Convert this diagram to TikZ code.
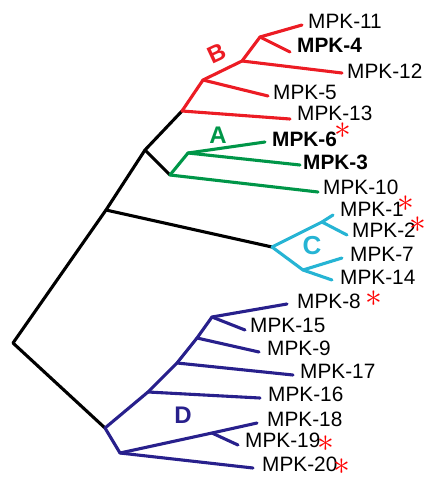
\documentclass[tikz,border=0pt]{standalone}
\usepackage{fontspec}
\setmainfont{Liberation Sans}
\definecolor{cred}{RGB}{236,28,36}
\definecolor{cgreen}{RGB}{0,150,72}
\definecolor{ccyan}{RGB}{38,180,212}
\definecolor{cblue}{RGB}{40,32,140}
\tikzset{
  br/.style={line width=3.1pt, line join=round, line cap=round},
  leaf/.style={anchor=west, inner sep=0pt, font=\fontsize{20.8}{22}\selectfont},
  bleaf/.style={leaf, font=\fontsize{20.8}{22}\selectfont\bfseries},
  star/.style={inner sep=0pt, text=red, font=\fontsize{24.88}{25}\selectfont},
  clade/.style={inner sep=0pt, font=\fontsize{24}{25}\selectfont\bfseries}
}
\newcommand{\redast}{\scalebox{1.35}{$\ast$}}
\begin{document}
\begin{tikzpicture}[x=1pt,y=-1pt]
\useasboundingbox (0,0) rectangle (426,477);
% coordinates
\coordinate (root) at (13,343);
\coordinate (K1) at (106,210);
\coordinate (K2) at (145,150);
% red
\coordinate (R0) at (182,111);
\coordinate (R1) at (203,80);
\coordinate (R2) at (242,61);
\coordinate (R3) at (260,37);
\coordinate (e11) at (302,25);
\coordinate (e4) at (290,52);
\coordinate (e12) at (342,73);
\coordinate (e5) at (268,96);
\coordinate (e13) at (290,119);
% green
\coordinate (G0) at (170,175);
\coordinate (G1) at (188,153);
\coordinate (e6) at (265,142);
\coordinate (e3) at (300,165);
\coordinate (e10) at (318,192);
% cyan
\coordinate (C0) at (272,247);
\coordinate (C1) at (322,222);
\coordinate (C2) at (303,270);
\coordinate (e1) at (333,215);
\coordinate (e2) at (347,235);
\coordinate (e7) at (342,258);
\coordinate (e14) at (332,280);
% blue
\coordinate (D0) at (105,428);
\coordinate (Da) at (148,392);
\coordinate (Db) at (177,363);
\coordinate (Dc) at (197,338);
\coordinate (Dd) at (212,317);
\coordinate (D1) at (120,453);
\coordinate (D2) at (212,433);
\coordinate (e8) at (287,304);
\coordinate (e15) at (245,330);
\coordinate (e9) at (259,352);
\coordinate (e17) at (293,375);
\coordinate (e16) at (260,398);
\coordinate (e18) at (257,423);
\coordinate (e19) at (238,445);
\coordinate (e20) at (253,468);

% black backbone
\draw[br, black] (D0) -- (root) -- (K1) -- (K2) -- (R0);
\draw[br, black] (K2) -- (G0);
\draw[br, black] (K1) -- (C0);

% red clade
\draw[br, cred] (R0) -- (R1) -- (R2) -- (R3) -- (e11);
\draw[br, cred] (R3) -- (e4);
\draw[br, cred] (R2) -- (e12);
\draw[br, cred] (R1) -- (e5);
\draw[br, cred] (R0) -- (e13);

% green clade
\draw[br, cgreen] (G0) -- (G1) -- (e6);
\draw[br, cgreen] (G1) -- (e3);
\draw[br, cgreen] (G0) -- (e10);

% cyan clade
\draw[br, ccyan] (C0) -- (C1) -- (e1);
\draw[br, ccyan] (C1) -- (e2);
\draw[br, ccyan] (C0) -- (C2) -- (e7);
\draw[br, ccyan] (C2) -- (e14);

% blue clade
\draw[br, cblue] (D0) -- (Da) -- (Db) -- (Dc) -- (Dd) -- (e8);
\draw[br, cblue] (Dd) -- (e15);
\draw[br, cblue] (Dc) -- (e9);
\draw[br, cblue] (Db) -- (e17);
\draw[br, cblue] (Da) -- (e16);
\draw[br, cblue] (D0) -- (D1) -- (D2) -- (e18);
\draw[br, cblue] (D2) -- (e19);
\draw[br, cblue] (D1) -- (e20);

% labels
\node[leaf] (l11) at (308,21) {MPK-11};
\node[bleaf] (l4) at (297,45.5) {MPK-4};
\node[leaf] (l12) at (347,71) {MPK-12};
\node[leaf] (l5) at (273,92) {MPK-5};
\node[leaf] (l13) at (297,113) {MPK-13};
\node[bleaf] (l6) at (272,139.5) {MPK-6};
\node[bleaf] (l3) at (303,162) {MPK-3};
\node[leaf] (l10) at (323,187.5) {MPK-10};
\node[leaf] (l1) at (340,209.5) {MPK-1};
\node[leaf] (l2) at (352,230.5) {MPK-2};
\node[leaf] (l7) at (350,254) {MPK-7};
\node[leaf] (l14) at (340,277.5) {MPK-14};
\node[leaf] (l8) at (297,301.5) {MPK-8};
\node[leaf] (l15) at (250,325) {MPK-15};
\node[leaf] (l9) at (267,348) {MPK-9};
\node[leaf] (l17) at (300,371) {MPK-17};
\node[leaf] (l16) at (268,394.5) {MPK-16};
\node[leaf] (l18) at (267,419.5) {MPK-18};
\node[leaf] (l19) at (245,440.5) {MPK-19};
\node[leaf] (l20) at (262,464.5) {MPK-20};

% asterisks
\node[star] (s6) at (343,131) {\redast};
\node[star] (s1) at (406,204) {\redast};
\node[star] (s2) at (418,225) {\redast};
\node[star] (s8) at (374,299) {\redast};
\node[star] (s19) at (326,444) {\redast};
\node[star] (s20) at (342,467) {\redast};

% clade letters
\node[clade, text=cred, rotate=25] (cB) at (217,53) {B};
\node[clade, text=cgreen] (cA) at (218,135) {A};
\node[clade, text=ccyan, font=\fontsize{26}{27}\selectfont\bfseries] (cC) at (312,246) {C};
\node[clade, text=cblue] (cD) at (183,415) {D};
\end{tikzpicture}
\end{document}
